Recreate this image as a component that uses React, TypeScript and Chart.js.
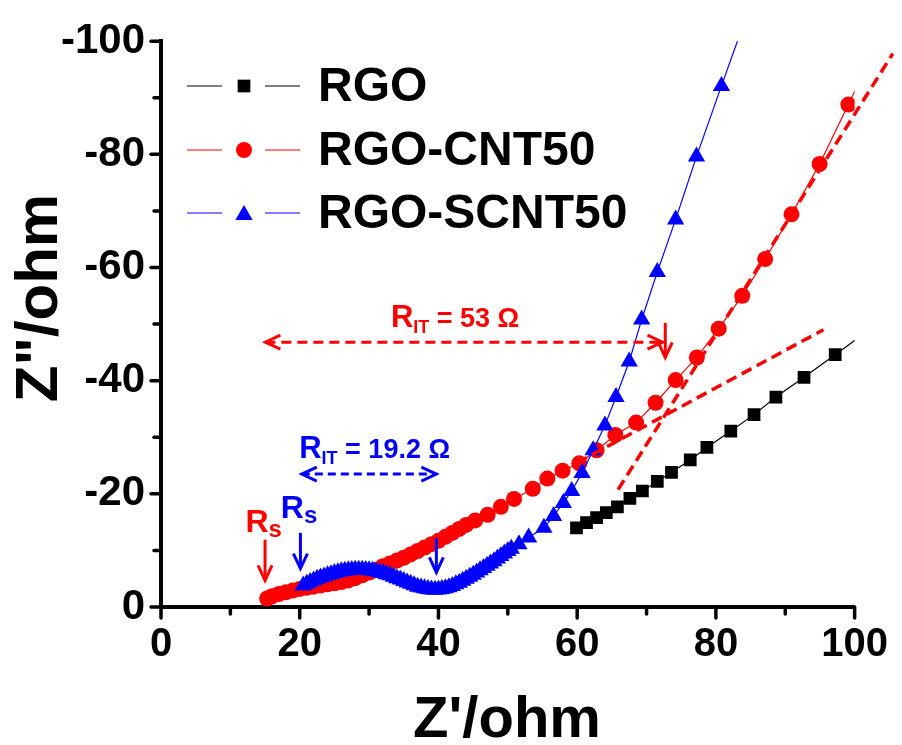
import React, { useEffect, useRef } from 'react';
import { Chart, registerables } from 'chart.js';
Chart.register(...registerables);

// RGO (black squares)
const rgoX = [59.9, 61.35, 62.8, 64.2, 65.8, 67.6, 69.4, 71.55, 73.6, 76.3, 78.7, 82.15, 85.5, 88.65, 92.7, 97.2, 102.0];
const rgoY = [-14.0, -14.9, -15.8, -16.7, -17.7, -19.2, -20.5, -22.2, -23.8, -26.0, -28.2, -31.1, -34.0, -37.1, -40.6, -44.6, -48.9];

// RGO-CNT50 (red circles)
const cntX = [15.3, 16, 17, 18, 19, 20, 21, 22, 23, 24, 25, 26, 27, 28, 29, 30, 31, 32, 33, 34, 35, 36, 37, 38, 39, 40, 41, 42, 43, 44,
  45.3, 47.1, 49.0, 50.9, 53.6, 55.7, 57.9, 60.3, 62.8, 65.5, 68.5, 71.3, 74.2, 77.25, 80.4, 83.8, 87.1, 90.9, 94.95, 99.1, 103.5];
const cntY = [-1.5, -1.9, -2.3, -2.6, -2.9, -3.2, -3.4, -3.6, -3.8, -4.0, -4.2, -4.4, -4.7, -5.1, -5.6, -6.1, -6.6, -7.2, -7.7, -8.2,
  -8.7, -9.3, -9.9, -10.5, -11.1, -11.7, -12.4, -13.1, -13.8, -14.5,
  -15.3, -16.3, -17.7, -19.1, -20.9, -22.7, -24.1, -25.4, -27.7, -30.4, -32.6, -36.1, -40.1, -44.1, -49.2, -55.0, -61.5, -69.4, -78.3, -88.8, -99.9];

// RGO-SCNT50 (blue triangles)
const scntX = [20.5, 21, 21.5, 22, 22.5, 23, 23.5, 24, 24.5, 25, 25.5, 26, 26.5, 27, 27.5, 28, 28.5, 29, 29.5, 30,
  30.5, 31, 31.5, 32, 32.5, 33, 33.5, 34, 34.5, 35, 35.5, 36, 36.5, 37, 37.5, 38, 38.5, 39, 39.5, 40,
  40.5, 41, 41.5, 42, 42.5, 43, 43.5, 44, 44.5, 45, 45.5, 46, 46.5, 47, 47.5, 48, 48.5, 49, 49.5, 50, 50.5,
  51.6, 53.0, 55.2, 56.6, 58.0, 59.2, 60.7, 62.3, 64.0, 65.6, 67.5, 69.3, 71.55, 74.2, 77.2, 80.8, 85.0];
const scntY = [-3.8, -4.1, -4.4, -4.7, -5.0, -5.2, -5.4, -5.6, -5.8, -6.0, -6.15, -6.3, -6.4, -6.5, -6.55, -6.6, -6.6, -6.6, -6.55, -6.5,
  -6.4, -6.3, -6.15, -6.0, -5.8, -5.6, -5.35, -5.1, -4.85, -4.6, -4.35, -4.1, -3.85, -3.6, -3.45, -3.3, -3.2, -3.1, -3.05, -3.1,
  -3.2, -3.3, -3.5, -3.7, -4.0, -4.3, -4.65, -5.0, -5.35, -5.7, -6.1, -6.5, -6.9, -7.3, -7.7, -8.1, -8.55, -9.0, -9.45, -9.9, -10.3,
  -11.1, -12.3, -14.0, -16.1, -18.4, -20.5, -23.7, -27.7, -32.1, -37.1, -43.4, -50.8, -59.2, -68.5, -79.6, -92.1, -106.5];

// Fit lines (red dashed)
const fitSteepX = [65.9, 105.5];
const fitSteepY = [-20.75, -97.8];
const fitShallowX = [60.0, 95.5];
const fitShallowY = [-25.5, -49.0];

// Axis ticks
const xTicks = [0, 20, 40, 60, 80, 100];
const yTicks = [0, -20, -40, -60, -80, -100];

const seriesNames = ['RGO', 'RGO-CNT50', 'RGO-SCNT50'];

const FONT = '"Liberation Sans", Arial, Helvetica, sans-serif';
const RED = '#ff0000';
const BLUE = '#0000ff';

const pts = (xs: number[], ys: number[]) => xs.map((x, i) => ({ x, y: ys[i] }));

type Part = { t: string; s: number; dy: number };

function richText(ctx: CanvasRenderingContext2D, parts: Part[], cx: number, baseline: number, color: string) {
  ctx.save();
  ctx.fillStyle = color;
  ctx.textBaseline = 'alphabetic';
  ctx.textAlign = 'left';
  let w = 0;
  parts.forEach((p) => { ctx.font = `bold ${p.s}px ${FONT}`; w += ctx.measureText(p.t).width; });
  let x = cx - w / 2;
  parts.forEach((p) => {
    ctx.font = `bold ${p.s}px ${FONT}`;
    ctx.fillText(p.t, x, baseline + p.dy);
    x += ctx.measureText(p.t).width;
  });
  ctx.restore();
}

function chevron(ctx: CanvasRenderingContext2D, tx: number, ty: number, dirx: number, diry: number) {
  const back = 15, side = 7;
  const bx = tx - dirx * back, by = ty - diry * back;
  const px = -diry * side, py = dirx * side;
  ctx.beginPath();
  ctx.moveTo(bx + px, by + py);
  ctx.lineTo(tx, ty);
  ctx.lineTo(bx - px, by - py);
  ctx.stroke();
}

function marker(ctx: CanvasRenderingContext2D, style: string, x: number, y: number, r: number) {
  ctx.beginPath();
  if (style === 'rect') {
    const s = r * Math.SQRT1_2;
    ctx.rect(x - s, y - s, 2 * s, 2 * s);
  } else if (style === 'circle') {
    ctx.arc(x, y, r, 0, Math.PI * 2);
  } else {
    const a = Math.PI * 2 / 3;
    ctx.moveTo(x, y - r);
    ctx.lineTo(x + r * Math.sin(a), y - r * Math.cos(a));
    ctx.lineTo(x - r * Math.sin(a), y - r * Math.cos(a));
    ctx.closePath();
  }
  ctx.fill();
}

const decorPlugin = {
  id: 'decor',
  afterDraw(chart: any) {
    const ctx: CanvasRenderingContext2D = chart.ctx;
    const xs = chart.scales.x;
    const ys = chart.scales.y;
    const area = chart.chartArea;
    const X = (v: number) => xs.getPixelForValue(v);
    const Y = (v: number) => ys.getPixelForValue(v);

    // ticks
    ctx.save();
    ctx.strokeStyle = '#000';
    ctx.lineWidth = 3.5;
    ctx.lineCap = 'round';
    for (let v = 0; v <= 100; v += 10) {
      const major = v % 20 === 0;
      const px = X(v);
      ctx.beginPath();
      ctx.moveTo(px, area.bottom);
      ctx.lineTo(px, area.bottom + (major ? 11 : 7));
      ctx.stroke();
    }
    for (let v = 0; v >= -100; v -= 10) {
      const major = v % 20 === 0;
      const py = Y(v);
      ctx.beginPath();
      ctx.moveTo(area.left, py);
      ctx.lineTo(area.left - (major ? 10 : 7), py);
      ctx.stroke();
    }
    ctx.restore();

    // axis titles
    ctx.save();
    ctx.fillStyle = '#000';
    ctx.font = `bold 58px ${FONT}`;
    ctx.textAlign = 'center';
    ctx.textBaseline = 'middle';
    ctx.fillText("Z'/ohm", 507, 721);
    ctx.translate(40, 298);
    ctx.rotate(-Math.PI / 2);
    ctx.font = `bold 60px ${FONT}`;
    ctx.fillText('Z"/ohm', 0, 0);
    ctx.restore();

    // annotations
    ctx.save();
    ctx.lineWidth = 3;
    ctx.lineCap = 'butt';
    ctx.strokeStyle = RED;
    ctx.setLineDash([10, 6]);
    ctx.beginPath();
    ctx.moveTo(X(15.05), Y(-46.8));
    ctx.lineTo(X(72.3), Y(-46.8));
    ctx.stroke();
    ctx.setLineDash([]);
    chevron(ctx, X(15.05), Y(-46.8), -1, 0);
    chevron(ctx, X(72.3), Y(-46.8), 1, 0);
    ctx.beginPath();
    ctx.moveTo(X(72.7), Y(-50.2));
    ctx.lineTo(X(72.7), Y(-44.1));
    ctx.stroke();
    chevron(ctx, X(72.7), Y(-44.1), 0, 1);
    ctx.beginPath();
    ctx.moveTo(X(15.0), Y(-11.9));
    ctx.lineTo(X(15.0), Y(-4.7));
    ctx.stroke();
    chevron(ctx, X(15.0), Y(-4.7), 0, 1);

    ctx.strokeStyle = BLUE;
    ctx.setLineDash([8, 5]);
    ctx.beginPath();
    ctx.moveTo(X(20.3), Y(-23.5));
    ctx.lineTo(X(39.7), Y(-23.5));
    ctx.stroke();
    ctx.setLineDash([]);
    chevron(ctx, X(20.3), Y(-23.5), -1, 0);
    chevron(ctx, X(39.7), Y(-23.5), 1, 0);
    ctx.beginPath();
    ctx.moveTo(X(39.7), Y(-12.2));
    ctx.lineTo(X(39.7), Y(-6.1));
    ctx.stroke();
    chevron(ctx, X(39.7), Y(-6.1), 0, 1);
    ctx.beginPath();
    ctx.moveTo(X(20.1), Y(-13.1));
    ctx.lineTo(X(20.1), Y(-6.8));
    ctx.stroke();
    chevron(ctx, X(20.1), Y(-6.8), 0, 1);
    ctx.restore();

    richText(ctx, [
      { t: 'R', s: 31, dy: 0 }, { t: 'IT', s: 18, dy: 6 }, { t: ' = 53 ', s: 27, dy: 0 }, { t: 'Ω', s: 27, dy: 0 },
    ], X(42.4), Y(-49.4), RED);
    richText(ctx, [
      { t: 'R', s: 31, dy: 0 }, { t: 'IT', s: 18, dy: 6 }, { t: ' = 19.2 ', s: 27, dy: 0 }, { t: 'Ω', s: 27, dy: 0 },
    ], X(30.8), Y(-26.4), BLUE);
    richText(ctx, [{ t: 'R', s: 32, dy: 0 }, { t: 's', s: 24, dy: 5 }], X(14.8), Y(-13.3), RED);
    richText(ctx, [{ t: 'R', s: 32, dy: 0 }, { t: 's', s: 24, dy: 5 }], X(19.9), Y(-15.7), BLUE);

    // legend
    const rows = [
      { name: seriesNames[0], color: '#000', style: 'rect', r: 9, y: 86 },
      { name: seriesNames[1], color: RED, style: 'circle', r: 8, y: 150 },
      { name: seriesNames[2], color: BLUE, style: 'triangle', r: 10, y: 213 },
    ];
    rows.forEach((row) => {
      ctx.save();
      ctx.strokeStyle = row.color;
      ctx.lineWidth = 1.2;
      ctx.beginPath();
      ctx.moveTo(187, row.y); ctx.lineTo(222, row.y);
      ctx.moveTo(265, row.y); ctx.lineTo(300, row.y);
      ctx.stroke();
      ctx.fillStyle = row.color;
      marker(ctx, row.style, 244, row.style === 'triangle' ? row.y + 2 : row.y, row.r);
      ctx.fillStyle = '#000';
      ctx.font = `bold 48px ${FONT}`;
      ctx.textAlign = 'left';
      ctx.textBaseline = 'middle';
      ctx.fillText(row.name, 318, row.y + 2);
      ctx.restore();
    });
  },
};

export default function App() {
  const ref = useRef<HTMLCanvasElement | null>(null);
  useEffect(() => {
    document.body.style.margin = '0';
    const canvas = ref.current;
    if (!canvas) return;
    const chart = new Chart(canvas, {
      type: 'scatter',
      data: {
        datasets: [
          {
            label: 'fit steep', data: pts(fitSteepX, fitSteepY), showLine: true, borderColor: RED, borderWidth: 3.5,
            borderDash: [11, 6], pointRadius: 0, clip: false as any,
          },
          {
            label: 'fit shallow', data: pts(fitShallowX, fitShallowY), showLine: true, borderColor: RED, borderWidth: 3.5,
            borderDash: [11, 6], pointRadius: 0,
          },
          {
            label: seriesNames[2], data: pts(scntX, scntY), showLine: true, borderColor: BLUE, borderWidth: 1.2,
            backgroundColor: BLUE, pointStyle: 'triangle', pointRadius: 10, pointBorderWidth: 0,
          },
          {
            label: seriesNames[1], data: pts(cntX, cntY), showLine: true, borderColor: RED, borderWidth: 1.2,
            backgroundColor: RED, pointStyle: 'circle', pointRadius: 8, pointBorderWidth: 0,
          },
          {
            label: seriesNames[0], data: pts(rgoX, rgoY), showLine: true, borderColor: '#000', borderWidth: 1.2,
            backgroundColor: '#000', pointStyle: 'rect', pointRadius: 9, pointBorderWidth: 0,
          },
        ],
      },
      options: {
        animation: false,
        responsive: false,
        maintainAspectRatio: false,
        devicePixelRatio: 1,
        layout: { padding: { top: 35, right: 39, left: 0, bottom: 0 } },
        plugins: { legend: { display: false }, tooltip: { enabled: false } },
        scales: {
          x: {
            type: 'linear', min: 0, max: 100,
            afterFit: (s: any) => { s.height = 138; },
            afterBuildTicks: (s: any) => { s.ticks = xTicks.map((v) => ({ value: v })); },
            grid: { display: false, drawTicks: false },
            border: { display: true, color: '#000', width: 4 },
            ticks: { color: '#000', padding: 14, font: { family: FONT, size: 40, weight: 'bold' }, maxRotation: 0 },
          },
          y: {
            type: 'linear', min: -100, max: 0, reverse: true,
            afterFit: (s: any) => { s.width = 161; },
            afterBuildTicks: (s: any) => { s.ticks = yTicks.map((v) => ({ value: v })); },
            grid: { display: false, drawTicks: false },
            border: { display: true, color: '#000', width: 4 },
            ticks: { color: '#000', padding: 16, font: { family: FONT, size: 42, weight: 'bold' } },
          },
        },
      } as any,
      plugins: [decorPlugin],
    });
    return () => chart.destroy();
  }, []);
  return (
    <div style={{ width: 902, height: 745 }}>
      <canvas ref={ref} width={902} height={745} style={{ display: 'block', width: 902, height: 745 }} />
    </div>
  );
}
